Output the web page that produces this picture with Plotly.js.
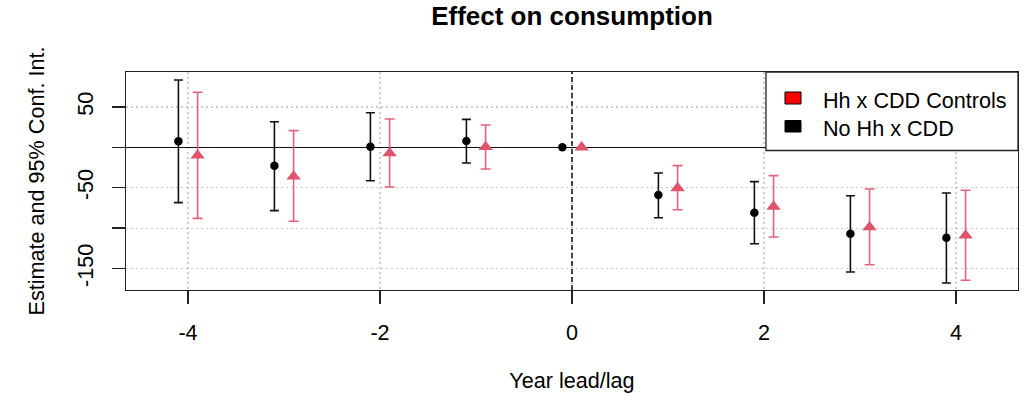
<!DOCTYPE html>
<html>
<head>
<meta charset="utf-8">
<script src="https://cdn.plot.ly/plotly-3.0.1.min.js"></script>
<style>
  html, body { margin: 0; padding: 0; background: #ffffff; }
  #chart { width: 1030px; height: 400px; }
</style>
</head>
<body>
<div id="chart"></div>
<script>
// ---- data ----
const years = [-4, -3, -2, -1, 0, 1, 2, 3, 4];

// "No Hh x CDD" (black dots)
const noHhEst  = [7.4, -22.7, 0.8, 7.8, 0, -59.0, -80.9, -106.9, -111.9];
const noHhLow  = [-68.5, -78.4, -41.3, -19.4, null, -87.1, -119.3, -154.3, -167.9];
const noHhHigh = [83.3, 31.7, 42.8, 34.6, null, -31.8, -42.5, -59.9, -56.6];

// "Hh x CDD Controls" (red triangles)
const ctrlEst  = [-10.0, -36.0, -7.3, 0.4, 0, -50.5, -73.3, -98.8, -109.0];
const ctrlLow  = [-87.9, -91.6, -49.1, -26.9, null, -77.2, -111.0, -145.3, -164.6];
const ctrlHigh = [68.1, 20.6, 35.0, 27.6, null, -22.7, -35.1, -51.6, -53.2];

const seriesNames = ["Hh x CDD Controls", "No Hh x CDD"];
const yTickVals = [50, 0, -50, -100, -150];
const yTickText = ["50", "", "-50", "", "-150"];
const xTickVals = [-4, -2, 0, 2, 4];

// ---- layout constants ----
const W = 1030, H = 400;
const M = { l: 126, r: 12, t: 72, b: 110 };
const plotW = W - M.l - M.r, plotH = H - M.t - M.b;
const px2x = p => (p - M.l) / plotW;        // pixel -> paper x
const px2y = p => (H - M.b - p) / plotH;    // pixel -> paper y

const FONT = '"Liberation Sans", Arial, Helvetica, sans-serif';
const FS = 21.6;
const RED = '#DF536B';
const DODGE = 0.1;

const upErr = (hi, est) => hi.map((h, i) => h == null ? NaN : h - est[i]);
const dnErr = (lo, est) => lo.map((l, i) => l == null ? NaN : est[i] - l);

const traceBlack = {
  type: 'scatter', mode: 'markers', name: seriesNames[1],
  x: years.map(v => v - DODGE), y: noHhEst,
  marker: { symbol: 'circle', size: 8.5, color: '#000000' },
  error_y: { type: 'data', symmetric: false,
             array: upErr(noHhHigh, noHhEst), arrayminus: dnErr(noHhLow, noHhEst),
             color: '#111111', thickness: 1.6, width: 4.5 },
  showlegend: false, cliponaxis: false
};
const traceRed = {
  type: 'scatter', mode: 'markers', name: seriesNames[0],
  x: years.map(v => v + DODGE), y: ctrlEst,
  marker: { symbol: 'triangle-up', size: 12.5, color: RED },
  error_y: { type: 'data', symmetric: false,
             array: upErr(ctrlHigh, ctrlEst), arrayminus: dnErr(ctrlLow, ctrlEst),
             color: 'rgba(223,83,107,0.9)', thickness: 1.6, width: 5 },
  showlegend: false, cliponaxis: false
};

// legend drawn as box + swatches + text
const legBox = { x0: 766, x1: 1018, y0: 72, y1: 150.5 };
const swX0 = 785, swX1 = 801;
const rows = [
  { y0: 92, y1: 104, fill: '#FF0000', text: seriesNames[0], cy: 100 },
  { y0: 120.5, y1: 132, fill: '#000000', text: seriesNames[1], cy: 128.2 }
];

const shapes = [
  // dashed vertical reference line at 0
  { type: 'line', xref: 'x', yref: 'paper', x0: 0, x1: 0, y0: 0, y1: 1,
    line: { color: '#000000', width: 1.4, dash: '5px,3px' }, layer: 'above' },
  // legend box (white fill covers grid + zero line)
  { type: 'rect', xref: 'paper', yref: 'paper',
    x0: px2x(legBox.x0), x1: px2x(legBox.x1), y0: px2y(legBox.y1), y1: px2y(legBox.y0),
    fillcolor: '#ffffff', line: { color: '#222222', width: 1.3 }, layer: 'above' }
];
const annotations = [];
rows.forEach(r => {
  shapes.push({ type: 'rect', xref: 'paper', yref: 'paper',
    x0: px2x(swX0), x1: px2x(swX1), y0: px2y(r.y1), y1: px2y(r.y0),
    fillcolor: r.fill, line: { color: '#000000', width: 1 }, layer: 'above' });
  annotations.push({ xref: 'paper', yref: 'paper', x: px2x(821), y: px2y(r.cy),
    xanchor: 'left', yanchor: 'middle', showarrow: false, text: r.text,
    font: { family: FONT, size: FS, color: '#000000' } });
});

const layout = {
  width: W, height: H,
  margin: M,
  paper_bgcolor: '#ffffff', plot_bgcolor: '#ffffff',
  font: { family: FONT, size: FS, color: '#000000' },
  title: { text: '<b>Effect on consumption</b>', x: 0.5, xref: 'paper',
           y: 1 - 16 / H, yref: 'container', yanchor: 'middle',
           font: { family: FONT, size: 26, color: '#000000' } },
  xaxis: {
    range: [-4.646, 4.646], tickvals: xTickVals, ticktext: xTickVals.map(String),
    showline: true, mirror: true, linecolor: '#222222', linewidth: 1.3,
    ticks: 'outside', ticklen: 13, tickwidth: 1.3, tickcolor: '#222222',
    ticklabelstandoff: 10,
    showgrid: true, gridcolor: '#cccccc', gridwidth: 1.2, griddash: '2px,3px',
    zeroline: false,
    title: { text: 'Year lead/lag', standoff: 28, font: { family: FONT, size: FS } }
  },
  yaxis: {
    range: [-176.6, 93.2], tickvals: yTickVals, ticktext: yTickText, tickangle: -90,
    showline: true, mirror: true, linecolor: '#222222', linewidth: 1.3,
    ticks: 'outside', ticklen: 13, tickwidth: 1.3, tickcolor: '#222222',
    ticklabelstandoff: 10,
    showgrid: true, gridcolor: '#cccccc', gridwidth: 1.2, griddash: '2px,3px',
    zeroline: true, zerolinecolor: '#111111', zerolinewidth: 1.3,
    title: { text: 'Estimate and 95% Conf. Int.', standoff: 22, font: { family: FONT, size: FS } }
  },
  shapes: shapes,
  annotations: annotations,
  showlegend: false
};

Plotly.newPlot('chart', [traceBlack, traceRed], layout, { displayModeBar: false, staticPlot: true });
</script>
</body>
</html>
